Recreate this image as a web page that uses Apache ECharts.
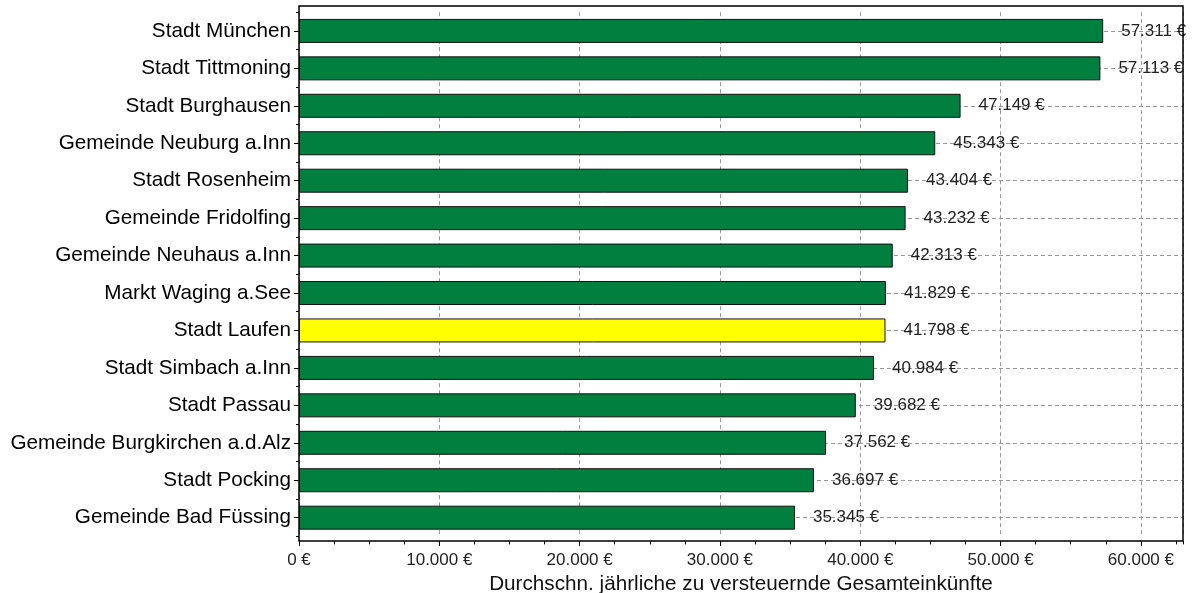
<!DOCTYPE html>
<html>
<head>
<meta charset="utf-8">
<script src="https://cdn.jsdelivr.net/npm/echarts@6/dist/echarts.min.js"></script>
<style>html,body{margin:0;padding:0;background:#fff}#c{width:1199px;height:593px}</style>
</head>
<body>
<div id="c"></div>
<script>
const categories = ['Stadt München','Stadt Tittmoning','Stadt Burghausen','Gemeinde Neuburg a.Inn','Stadt Rosenheim','Gemeinde Fridolfing','Gemeinde Neuhaus a.Inn','Markt Waging a.See','Stadt Laufen','Stadt Simbach a.Inn','Stadt Passau','Gemeinde Burgkirchen a.d.Alz','Stadt Pocking','Gemeinde Bad Füssing'];
const values = [57311,57113,47149,45343,43404,43232,42313,41829,41798,40984,39682,37562,36697,35345];
const highlighted = ['Stadt Laufen'];
const axisTitle = 'Durchschn. jährliche zu versteuernde Gesamteinkünfte';

const FONT = '"Liberation Sans", Arial, sans-serif';
function fmt(v){ return String(Math.round(v)).replace(/\B(?=(\d{3})+(?!\d))/g, '.') + ' €'; }

const chart = echarts.init(document.getElementById('c'), null, {renderer:'canvas'});
const G = {left: 299, right: 16, top: 12.2, bottom: 56.6};
chart.setOption({
  animation: false,
  backgroundColor: '#fff',
  textStyle: {fontFamily: FONT},
  grid: {left: G.left, right: G.right, top: G.top, bottom: G.bottom, containLabel: false, outerBoundsMode: 'none'},
  xAxis: [{
    type: 'value', min: 0, max: 63000, interval: 10000, position: 'bottom', offset: 4.5,
    axisLine: {show: false},
    axisTick: {show: true, length: 5, lineStyle: {color: '#000'}},
    axisLabel: {show: true, showMaxLabel: false, formatter: fmt, fontSize: 17, color: '#222', margin: 11, fontFamily: FONT},
    splitLine: {show: true, lineStyle: {type: [4, 3], color: '#999', width: 1}},
    name: axisTitle, nameLocation: 'middle', nameGap: 30,
    nameTextStyle: {fontSize: 20.7, color: '#111', fontFamily: FONT}
  },{
    type: 'value', min: 0, max: 63000, interval: 2500, position: 'bottom', offset: 4.5,
    axisLine: {show: false},
    axisTick: {show: true, length: 3.5, lineStyle: {color: '#000'}},
    axisLabel: {show: false}, splitLine: {show: false}
  }],
  yAxis: [{
    type: 'category', data: categories, inverse: true,
    axisLine: {show: false},
    axisTick: {show: true, alignWithLabel: true, length: 5, lineStyle: {color: '#000'}},
    axisLabel: {fontSize: 20.7, color: '#000', margin: 8, fontFamily: FONT},
    splitLine: {show: false}
  },{
    type: 'category', data: categories, inverse: true, position: 'left',
    axisLine: {show: false},
    axisTick: {show: true, length: 3, lineStyle: {color: '#000'}},
    axisLabel: {show: false}, splitLine: {show: false}
  }],
  series: [{
    type: 'bar', xAxisIndex: 0, yAxisIndex: 0, barWidth: 24, z: 3,
    data: values.map((v, i) => ({
      value: v,
      itemStyle: {color: highlighted.includes(categories[i]) ? '#ffff00' : '#007f3f', borderColor: '#111', borderWidth: 1}
    })),
    label: {show: true, position: 'right', distance: 18, formatter: p => fmt(p.value), fontSize: 17, color: '#222', fontFamily: FONT},
    markLine: {
      silent: true, z: 1, symbol: 'none', animation: false,
      label: {show: false},
      lineStyle: {type: [4, 3], color: '#999', width: 1},
      data: categories.map(c => ({yAxis: c}))
    }
  }],
  graphic: [{
    type: 'rect', silent: true, z: 10,
    shape: {x: G.left, y: 6, width: 1199 - G.left - G.right, height: 541 - 6},
    style: {fill: 'none', stroke: '#000', lineWidth: 1.5}
  }]
});
</script>
</body>
</html>
